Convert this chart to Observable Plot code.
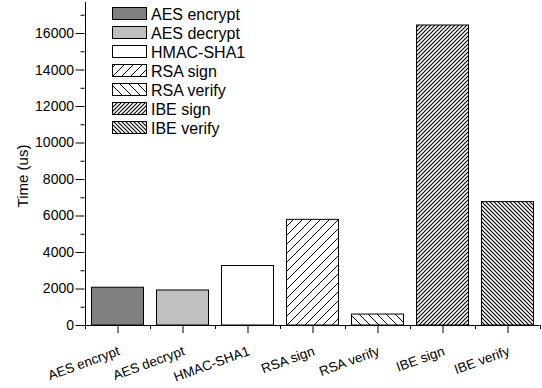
<!DOCTYPE html>
<html><head><meta charset="utf-8">
<script src="https://cdn.jsdelivr.net/npm/d3@7"></script>
<script src="https://cdn.jsdelivr.net/npm/@observablehq/plot@0.6"></script>
<style>
body{margin:0;background:#fff;}
#chart{width:542px;height:388px;font-family:"Liberation Sans",Arial,sans-serif;}
</style>
</head><body><div id="chart"></div>
<script>
const categories = ["AES encrypt","AES decrypt","HMAC-SHA1","RSA sign","RSA verify","IBE sign","IBE verify"];
const values = [2070, 1920, 3260, 5790, 600, 16440, 6760];
const fills = ["#808080","#c0c0c0","#ffffff","url(#p-rsa-sign)","url(#p-rsa-verify)","url(#p-ibe-sign)","url(#p-ibe-verify)"];
const yTicks = [0,2000,4000,6000,8000,10000,12000,14000,16000];
const yMinor = [1000,3000,5000,7000,9000,11000,13000,15000,17000];
const yLabel = "Time (us)";

const data = categories.map((c,i)=>({category:c, value:values[i]}));
const FONT = '"Liberation Sans",Arial,sans-serif';
const PX = 1000/18.25; // data units per pixel on y (for tick lengths below the baseline)

const svg = Plot.plot({
  width:542, height:388,
  marginLeft:84.5, marginRight:2.5, marginTop:2, marginBottom:63,
  style:{fontFamily:FONT, fontSize:"13px", background:"#fff", color:"#000", overflow:"visible"},
  x:{domain:categories, padding:0, label:null, axis:null},
  y:{domain:[0,17700], label:null, axis:null},
  color:{type:"ordinal", domain:categories, range:fills},
  marks:[
    Plot.barY(data,{x:"category", y:"value", fill:"category", stroke:"#000", strokeWidth:1, insetLeft:6.5, insetRight:6.5}),
    Plot.ruleY([0],{stroke:"#000"}),
    Plot.ruleX([categories[0]],{dx:-32.5, y1:0, y2:17700, stroke:"#000"}),
    Plot.axisY({ticks:yTicks, tickSize:9, tickPadding:2, fontSize:14, tickFormat:d=>String(d), label:null}),
    Plot.axisY({ticks:yMinor, tickSize:4, fill:"none", label:null}),
    // major x ticks at category centers
    Plot.ruleX(categories,{x:d=>d, y1:0, y2:-8*PX, stroke:"#000"}),
    // minor x ticks at band boundaries
    Plot.ruleX(categories,{x:d=>d, dx:32.5, y1:0, y2:-4*PX, stroke:"#000"}),
    Plot.ruleX([categories[0]],{x:d=>d, dx:-32.5, y1:0, y2:-4*PX, stroke:"#000"}),
    // rotated category labels
    Plot.text(categories,{x:d=>d, y:0, text:d=>d, rotate:-20, textAnchor:"end", lineAnchor:"middle", dx:1, dy:25, fontSize:13.5, fill:"#000"}),
    Plot.text([yLabel],{frameAnchor:"left", dx:-62, dy:12, rotate:-90, fontSize:15, textAnchor:"middle", lineAnchor:"middle"})
  ]
});

const s = d3.select(svg);
const defs = s.insert("defs", ":first-child");
function hatch(id, size, dir){
  const p = defs.append("pattern").attr("id",id).attr("patternUnits","userSpaceOnUse")
    .attr("width",size).attr("height",size);
  p.append("rect").attr("width",size).attr("height",size).attr("fill","#fff");
  const path = dir > 0
    ? `M0,${size} L${size},0 M${-size/2},${size/2} L${size/2},${-size/2} M${size/2},${size*1.5} L${size*1.5},${size/2}`
    : `M0,0 L${size},${size} M${-size/2},${size/2} L${size/2},${size*1.5} M${size/2},${-size/2} L${size*1.5},${size/2}`;
  p.append("path").attr("d",path).attr("stroke","#000").attr("stroke-width", size > 5 ? 1 : 1.1).attr("fill","none");
}
hatch("p-rsa-sign", 9, 1);
hatch("p-rsa-verify", 9, -1);
hatch("p-ibe-sign", 4, 1);
hatch("p-ibe-verify", 4, -1);

// legend
const lg = s.append("g").attr("font-family", FONT).attr("font-size", 16).attr("text-anchor","start");
categories.forEach((c,i)=>{
  const y0 = 7 + 19*i;
  lg.append("rect").attr("x",112.5).attr("y",y0+0.5).attr("width",34).attr("height",12)
    .attr("fill",fills[i]).attr("stroke","#000").attr("stroke-width",1);
  lg.append("text").attr("x",151).attr("y",y0+12.5).attr("fill","#000").text(c);
});

document.getElementById("chart").appendChild(svg);
</script>
</body></html>
